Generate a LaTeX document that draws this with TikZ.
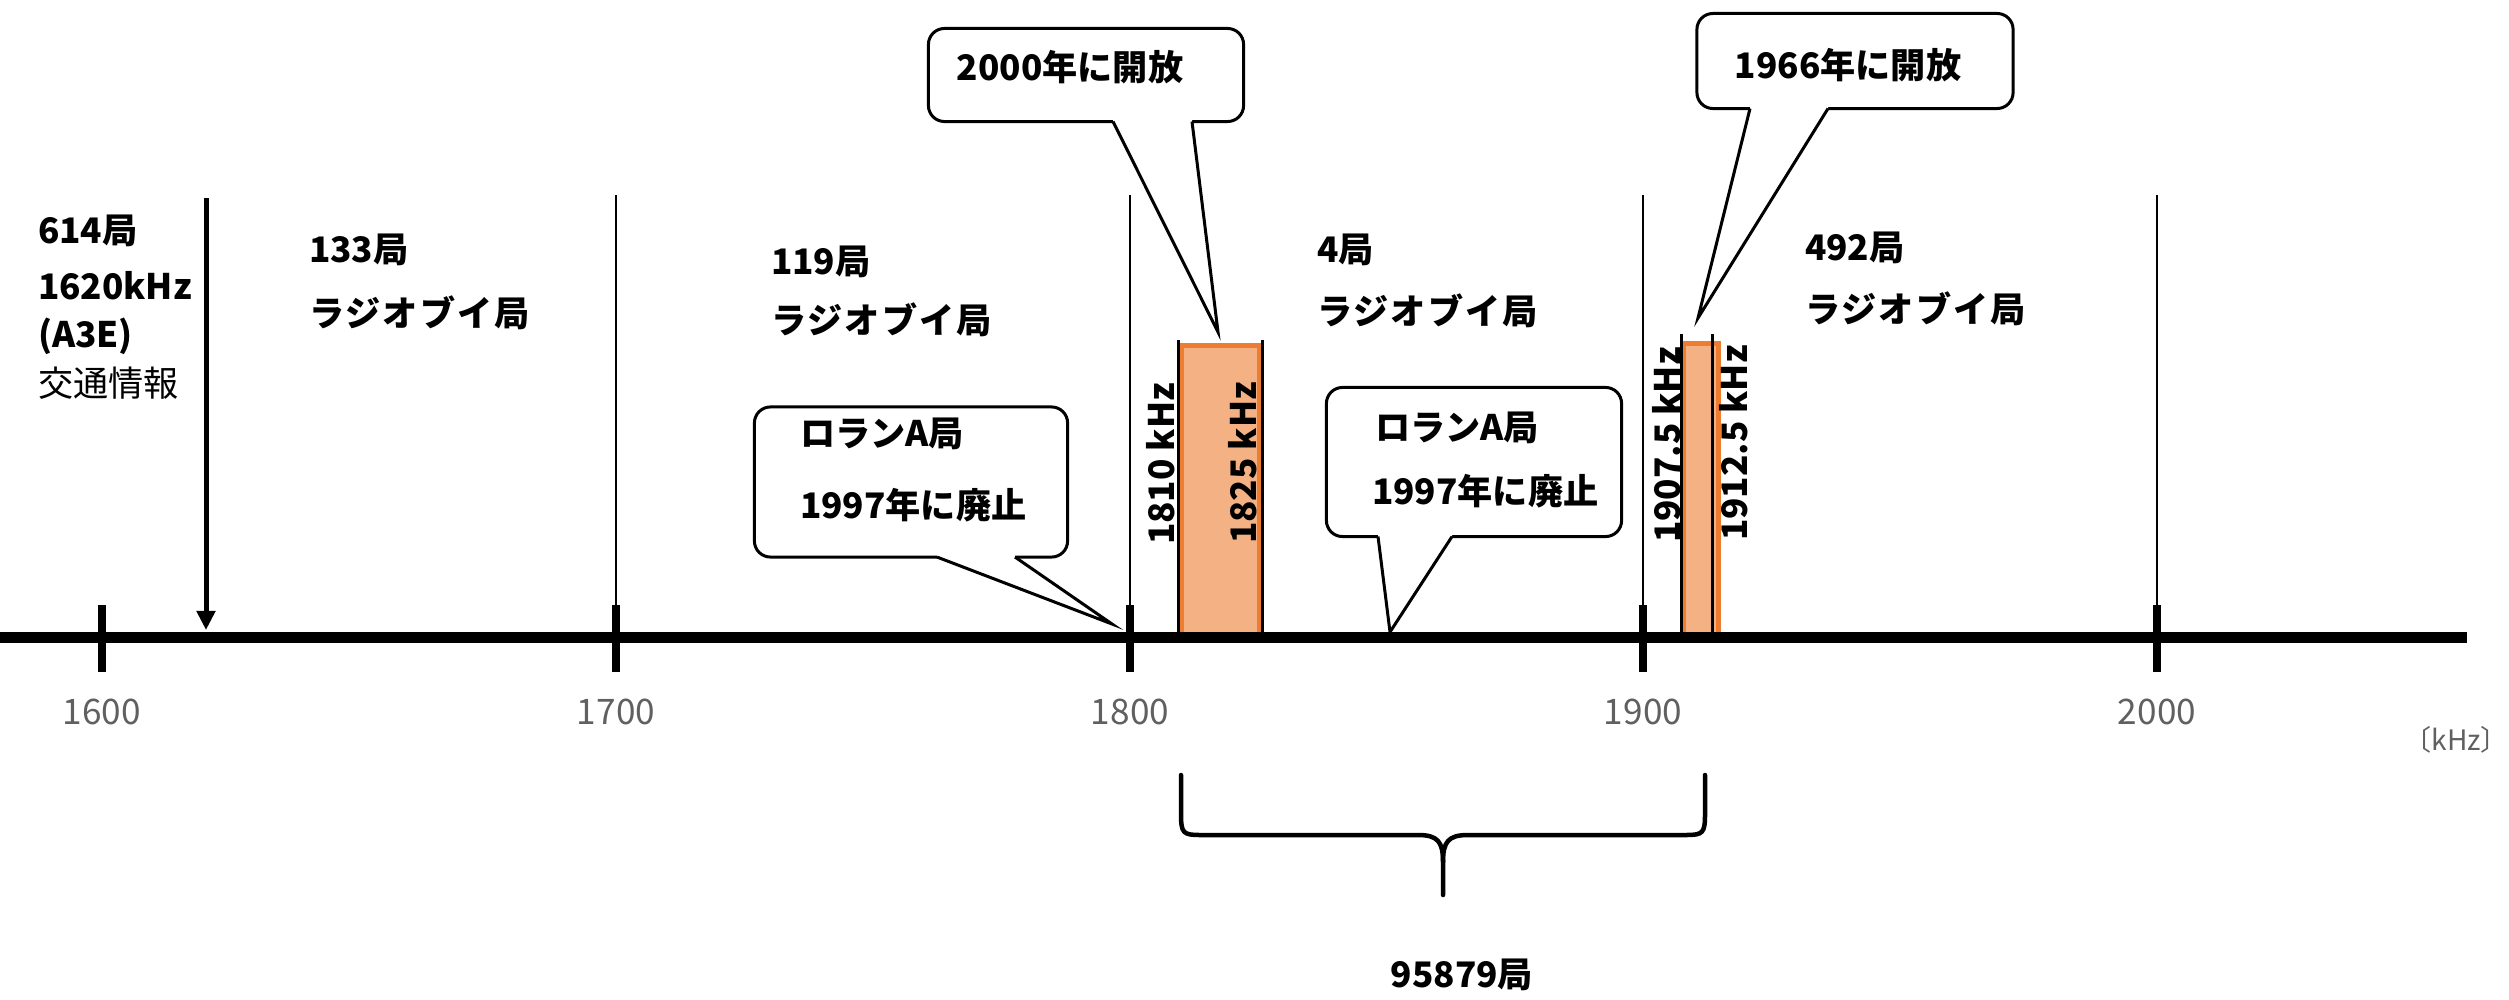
\documentclass[tikz,border=0pt]{standalone}
\usepackage{fontspec}
\setmainfont{Noto Sans CJK JP}
\usetikzlibrary{arrows.meta}
\definecolor{orangeb}{HTML}{ED7D31}
\definecolor{orangef}{HTML}{F4B183}
\definecolor{ticklbl}{HTML}{606060}
\begin{document}
\begin{tikzpicture}[x=0.01cm,y=-0.01cm,
  every node/.style={inner sep=0pt, outer sep=0pt},
  lbl/.style={font=\fontsize{10}{12}\selectfont\bfseries, anchor=west},
  lblreg/.style={font=\fontsize{10}{12}\selectfont, anchor=west},
  kana/.style={font=\fontsize{10}{12}\selectfont\bfseries\addfontfeature{LetterSpace=6}, anchor=west},
  ctext/.style={font=\fontsize{10}{12}\selectfont\bfseries},
  ticklabel/.style={font=\fontsize{10}{12}\selectfont, text=ticklbl},
  unitlabel/.style={font=\fontsize{8}{10}\selectfont, text=ticklbl, anchor=east},
  axisline/.style={line width=0.11cm},
  tickline/.style={line width=0.08cm},
  sepline/.style={line width=0.02cm},
  bubble/.style={draw, fill=white, line width=0.03cm, rounded corners=0.16cm},
  ptr/.style={line width=0.03cm, line join=miter},
  band/.style={draw=orangeb, fill=orangef, line width=0.05cm},
  bandedge/.style={line width=0.03cm},
  brace/.style={line width=0.045cm, line cap=round},
  vlbl/.style={font=\fontsize{10}{12}\selectfont\bfseries, rotate=90},
  downarrow/.style={line width=0.05cm, -{Triangle[length=0.19cm,width=0.18cm]}},
]
\useasboundingbox[fill=white] (0,0) rectangle (2509,1000);

% orange bands
\draw[band] (1181,345) rectangle (1259,637);
\draw[bandedge] (1178,340) -- (1178,637);
\draw[bandedge] (1262,340) -- (1262,637);
\draw[band] (1683,343) rectangle (1718,637);
\draw[bandedge] (1681,334) -- (1681,637);
\draw[bandedge] (1712,334) -- (1712,637);

% separators
\foreach \x in {616,1130,1643,2157} \draw[sepline] (\x,195) -- (\x,605);

% axis
\coordinate (ax0) at (0,637);
\coordinate (ax1) at (2467,637);
\draw[axisline] (ax0) -- (ax1);
\foreach \f/\x in {1600/102,1700/616,1800/1130,1900/1643,2000/2157}{
  \draw[tickline] (\x,605) -- (\x,672);
  \node[ticklabel] (t\f) at (\x,712) {\f};
}
\node[unitlabel] (unit) at (2509,740) {〔kHz〕};

% 1620 kHz arrow
\coordinate (arrTop) at (206,198);
\coordinate (arrTip) at (206,630);
\draw[downarrow] (arrTop) -- (arrTip);

% left text
\node[lbl] (n614) at (38,231) {614局};
\node[lbl] (n1620) at (38,286) {1620kHz};
\node[lbl] (a3e) at (38,336) {(A3E)};
\node[lblreg] (traffic) at (38,383) {交通情報};

% region labels
\node[lbl] (r133) at (309,250) {133局};
\node[kana] (r133b) at (309,313) {ラジオブイ局};
\node[lbl] (r119) at (771,262) {119局};
\node[kana] (r119b) at (771,320) {ラジオブイ局};
\node[lbl] (r4) at (1317,250) {4局};
\node[kana] (r4b) at (1317,311) {ラジオブイ局};
\node[lbl] (r492) at (1805,248) {492局};
\node[kana] (r492b) at (1805,309) {ラジオブイ局};

% rotated frequency labels
\node[vlbl] (f1810) at (1161,464) {1810 kHz};
\node[vlbl] (f1825) at (1243,463) {1825 kHz};
\node[vlbl] (f19075) at (1667,445) {1907.5 kHz};
\node[vlbl] (f19125) at (1734,443) {1912.5 kHz};

% callout 1
\node[bubble, minimum width=3.15cm, minimum height=0.93cm] (c1) at (1086,75) {};
\node[ctext] (c1t) at (1070,67) {2000年に開放};
\path (c1.south) ++(27,0) coordinate (c1a);
\path (c1.south) ++(106,0) coordinate (c1b);
\coordinate (c1p) at (1218,332);
\fill[white] ([yshift=1.2pt]c1a) -- (c1a) -- (c1p) -- (c1b) -- ([yshift=1.2pt]c1b) -- cycle;
\draw[ptr] (c1a) -- (c1p) -- (c1b);

% callout 4
\node[bubble, minimum width=3.16cm, minimum height=0.95cm] (c4) at (1855,61) {};
\node[ctext] (c4t) at (1848,65) {1966年に開放};
\path (c4.south) ++(-105,0) coordinate (c4a);
\path (c4.south) ++(-27,0) coordinate (c4b);
\coordinate (c4p) at (1698,318);
\fill[white] ([yshift=1.2pt]c4a) -- (c4a) -- (c4p) -- (c4b) -- ([yshift=1.2pt]c4b) -- cycle;
\draw[ptr] (c4a) -- (c4p) -- (c4b);

% callout 2
\node[bubble, minimum width=3.13cm, minimum height=1.5cm] (c2) at (911,482) {};
\node[lbl] (c2l1) at (800,434) {ロランA局};
\node[lbl] (c2l2) at (800,505) {1997年に廃止};
\path (c2.south) ++(26,0) coordinate (c2a);
\path (c2.south) ++(104,0) coordinate (c2b);
\coordinate (c2p) at (1112,624);
\fill[white] ([yshift=1.2pt]c2a) -- (c2a) -- (c2p) -- (c2b) -- ([yshift=1.2pt]c2b) -- cycle;
\draw[ptr] (c2a) -- (c2p) -- (c2b);

% callout 3
\node[bubble, minimum width=2.95cm, minimum height=1.49cm] (c3) at (1474,462) {};
\node[lbl] (c3l1) at (1375,428) {ロランA局};
\node[lbl] (c3l2) at (1372,491) {1997年に廃止};
\path (c3.south) ++(-96,0) coordinate (c3a);
\path (c3.south) ++(-22,0) coordinate (c3b);
\coordinate (c3p) at (1390,632);
\fill[white] ([yshift=1.2pt]c3a) -- (c3a) -- (c3p) -- (c3b) -- ([yshift=1.2pt]c3b) -- cycle;
\draw[ptr] (c3a) -- (c3p) -- (c3b);

% brace
\coordinate (brL) at (1181,775);
\coordinate (brR) at (1705,775);
\coordinate (brM) at (1443,895);
\draw[brace] (brL) -- (1181,814) .. controls (1181,833) and (1183,835) .. (1200,835)
  -- (1418,835) .. controls (1438,835) and (1443,842) .. (1443,862) -- (brM);
\draw[brace] (brR) -- (1705,814) .. controls (1705,833) and (1703,835) .. (1686,835)
  -- (1468,835) .. controls (1448,835) and (1443,842) .. (1443,862);
\node[ctext] (total) at (1462,975) {95879局};
\end{tikzpicture}
\end{document}
